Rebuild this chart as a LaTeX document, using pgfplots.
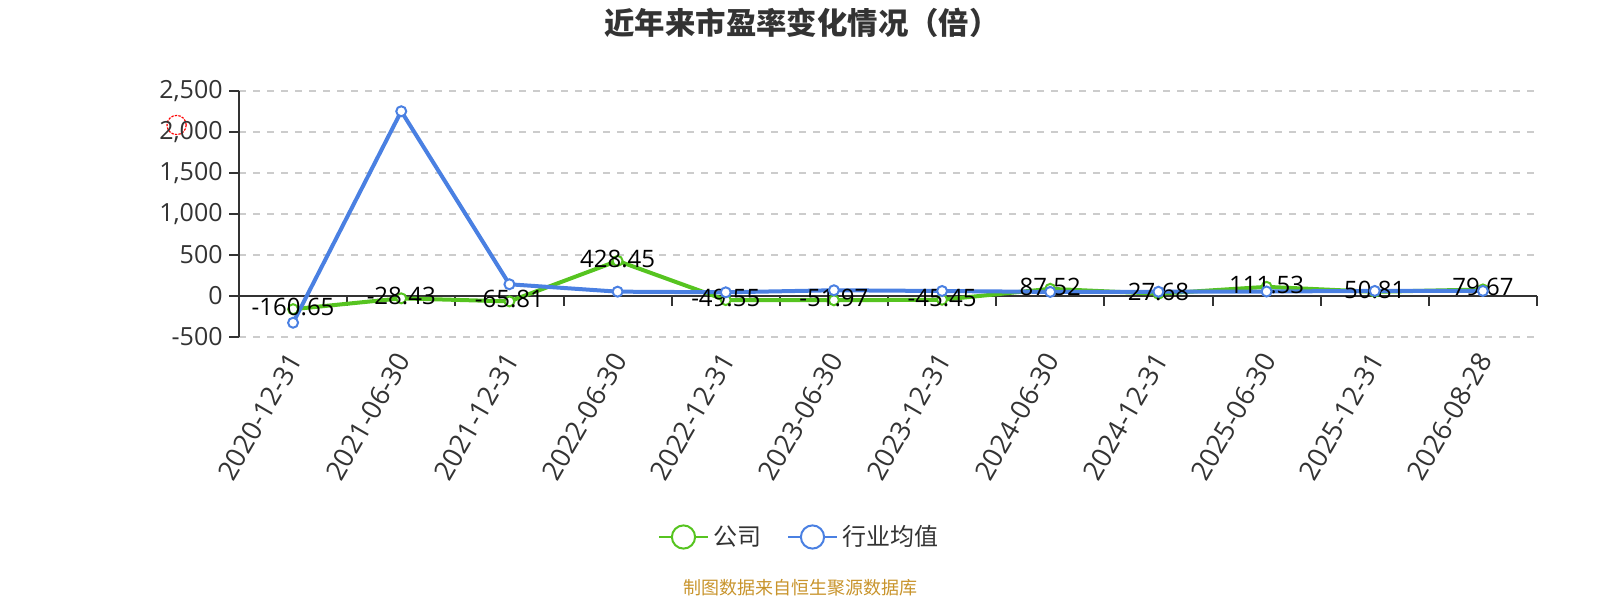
\documentclass[border=0pt]{standalone}
\usepackage{pgfplots}
\pgfplotsset{compat=1.18}
\usepackage{pgfplotstable}
\usepackage{fontspec}
\setmainfont{Open Sans}
\newfontfamily\cjk{Noto Sans CJK SC}
\definecolor{tc}{HTML}{333333}
\definecolor{gridc}{HTML}{CCCCCC}
\definecolor{cgreen}{RGB}{86,196,32}
\definecolor{cblue}{RGB}{74,128,226}
\definecolor{gold}{RGB}{200,148,44}

\pgfplotstableread{
x y label
0 -160.65 -160.65
1 -28.43 -28.43
2 -65.81 -65.81
3 428.45 428.45
4 -49.55 -49.55
5 -51.97 -51.97
6 -45.45 -45.45
7 87.52 87.52
8 27.68 27.68
9 111.53 111.53
10 50.81 50.81
11 79.67 79.67
}\company

\pgfplotstableread{
x y
0 -326
1 2253
2 143
3 53
4 45
5 70
6 61
7 50
8 52
9 55
10 62
11 62
}\industry

\begin{document}
\begin{tikzpicture}
\path[use as bounding box] (0,0) rectangle (800pt,300pt);
\node[font=\cjk\bfseries\fontsize{15.2}{17}\selectfont, text=tc] at (401pt,288.5pt) {近年来市盈率变化情况（倍）};
\node[font=\cjk\fontsize{9}{10}\selectfont, text=gold] at (400pt,6pt) {制图数据来自恒生聚源数据库};
\draw[red, line width=0.6pt, dash pattern=on 1.2pt off 0.6pt] (88.3pt,237.5pt) circle (4.8pt);
\begin{axis}[
  at={(119.5pt,131.5pt)}, anchor=south west,
  scale only axis, width=649pt, height=123pt,
  xmin=-0.5, xmax=11.5, ymin=-500, ymax=2500,
  clip=false,
  axis y line*=left,
  axis x line*=bottom,
  x axis line style={draw=none},
  y axis line style={draw=tc, line width=1pt},
  xtick={0,...,11},
  xticklabels={2020-12-31,2021-06-30,2021-12-31,2022-06-30,2022-12-31,2023-06-30,2023-12-31,2024-06-30,2024-12-31,2025-06-30,2025-12-31,2026-08-28},
  major x tick style={draw=none},
  ytick={-500,0,500,1000,1500,2000,2500},
  ymajorgrids,
  grid style={gridc, line width=0.6pt, dash pattern=on 3.5pt off 3.5pt},
  tick align=outside,
  major tick length=5pt,
  major y tick style={draw=tc, line width=1pt},
  /pgf/number format/.cd, 1000 sep={,}, assume math mode=true,
  /pgfplots/.cd,
  yticklabel style={font=\fontsize{12.5}{13}\selectfont, text=tc, inner sep=0pt, xshift=-3pt},
  xticklabel style={font=\fontsize{13.5}{14}\selectfont, text=tc, rotate=60, anchor=east, inner sep=0pt, xshift=-3pt, yshift=-3pt},
  legend style={at={(0.4322,-0.813)}, anchor=center, draw=none, fill=none,
    font=\cjk\fontsize{12}{13}\selectfont, text=tc,
    /tikz/every even column/.append style={column sep=11pt}},
  legend columns=2,
  legend cell align=left,
]
\draw[tc, line width=1pt] (axis cs:-0.5,0) -- (axis cs:11.5,0);
\pgfplotsinvokeforeach{-0.5,0.5,1.5,2.5,3.5,4.5,5.5,6.5,7.5,8.5,9.5,10.5,11.5}{
  \draw[tc, line width=1pt] (axis cs:#1,0) -- ([yshift=-5pt]axis cs:#1,0);
}
\addplot[cgreen, line width=2pt, mark=*, mark size=2.5pt,
  mark options={fill=white, draw=cgreen, line width=1pt},
  point meta=explicit symbolic,
  nodes near coords,
  nodes near coords style={font=\fontsize{12}{12}\selectfont, text=black, anchor=center, yshift=1pt, inner sep=0pt},
  legend image code/.code={
    \draw[line width=1pt] (0pt,0pt) -- (24.5pt,0pt);
    \draw[line width=1pt, fill=white] (12.25pt,0pt) circle (5.8pt);}
] table[x=x, y=y, meta=label] {\company};
\addlegendentry{公司}
\addplot[cblue, line width=2pt, mark=*, mark size=2.5pt,
  mark options={fill=white, draw=cblue, line width=1pt},
  legend image code/.code={
    \draw[line width=1pt] (0pt,0pt) -- (24.5pt,0pt);
    \draw[line width=1pt, fill=white] (12.25pt,0pt) circle (5.8pt);}
] table[x=x, y=y] {\industry};
\addlegendentry{行业均值}
\end{axis}
\end{tikzpicture}
\end{document}
